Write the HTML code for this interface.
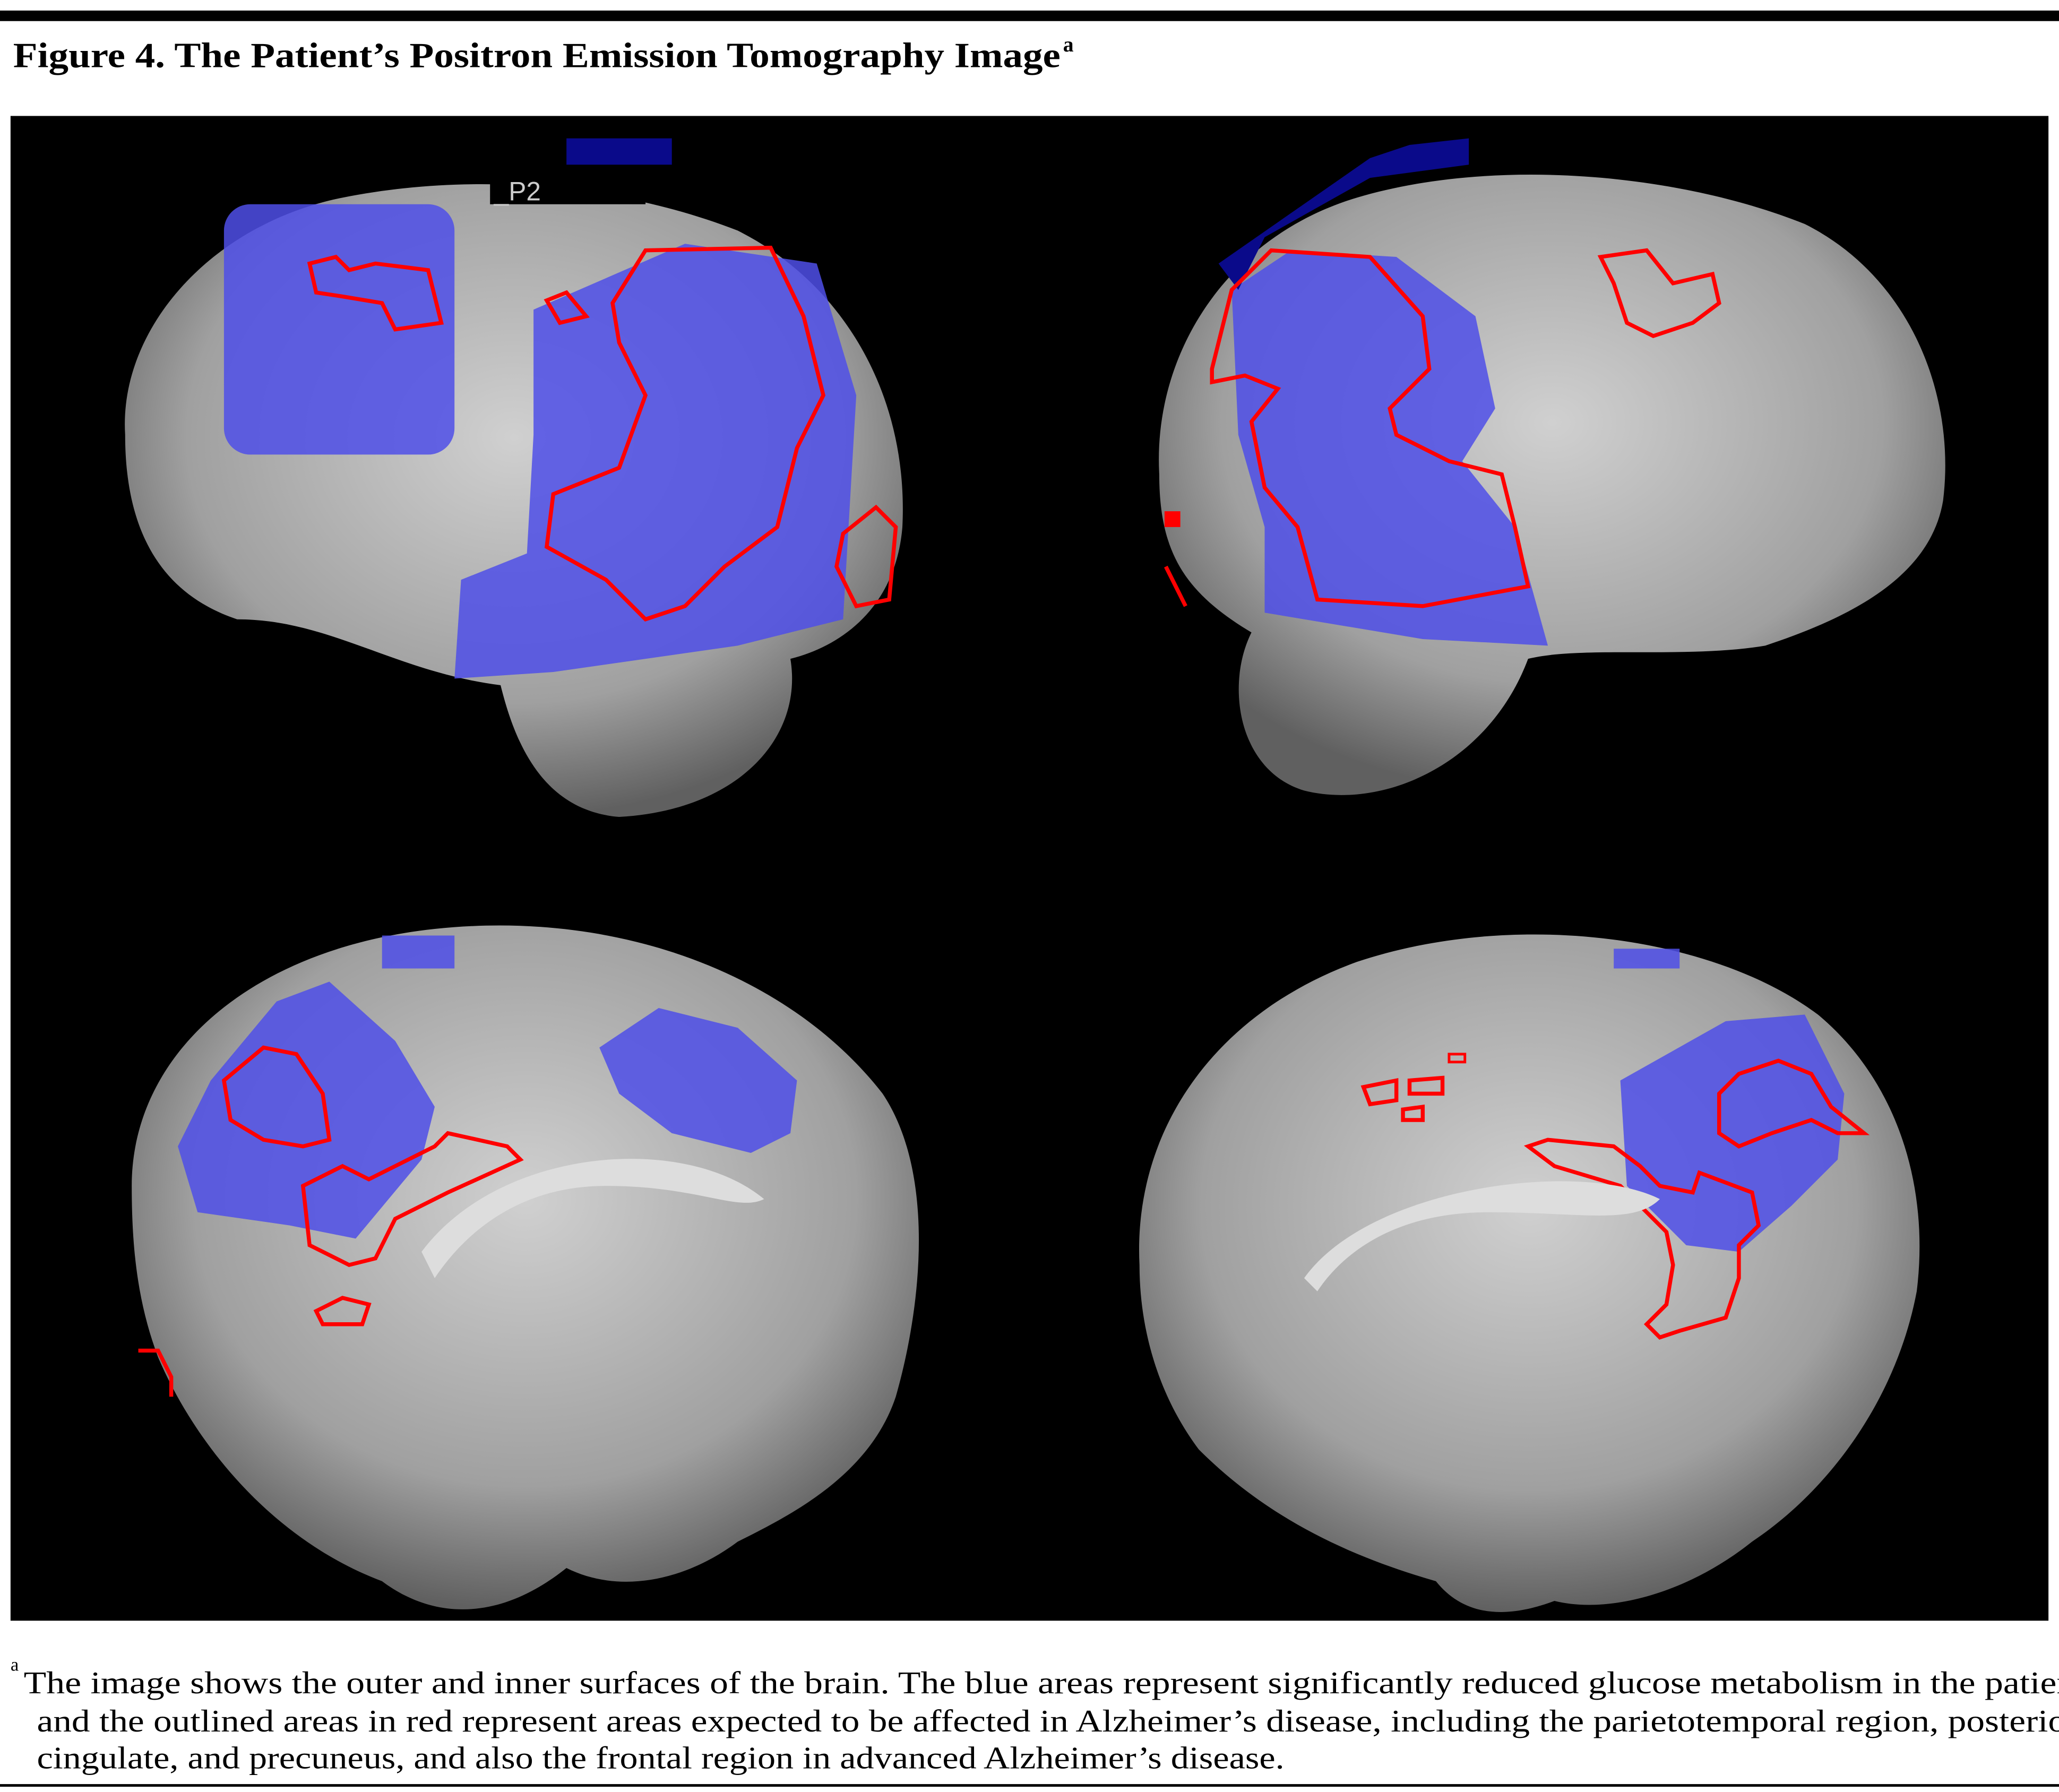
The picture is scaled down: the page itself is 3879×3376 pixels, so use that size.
<!DOCTYPE html>
<html><head><meta charset="utf-8"><style>
html,body{margin:0;padding:0;background:#fff;}
svg{display:block;}
</style></head><body>
<svg width="3879" height="3376" viewBox="0 0 1563 1360" preserveAspectRatio="none" xmlns="http://www.w3.org/2000/svg">
<defs>
<radialGradient id="g" cx="50%" cy="40%" r="60%">
<stop offset="0" stop-color="#d0d0d0"/><stop offset="0.7" stop-color="#a0a0a0"/><stop offset="1" stop-color="#606060"/>
</radialGradient>
</defs>
<rect x="0" y="0" width="1563" height="1360" fill="#fff"/>
<rect x="0" y="8" width="1563" height="8" fill="#000"/>
<text x="10" y="51" font-family="Liberation Serif, serif" font-weight="bold" font-size="27" textLength="795" lengthAdjust="spacingAndGlyphs">Figure 4. The Patient’s Positron Emission Tomography Image</text>
<text x="807" y="39" font-family="Liberation Serif, serif" font-weight="bold" font-size="16">a</text>
<rect x="8" y="88" width="1547" height="1142" fill="#000"/>

<!-- Brain 1 top-left -->
<path d="M95 330 C90 250 160 170 260 150 C360 130 470 140 560 175 C640 215 690 300 685 400 C680 460 640 490 600 500 C610 560 560 615 470 620 C410 615 390 560 380 520 C300 510 250 470 180 470 C120 450 95 400 95 330 Z" fill="url(#g)"/>
<rect x="170" y="155" width="175" height="190" rx="20" fill="#4f4fe8" opacity="0.85"/>
<path d="M405 235 L520 185 L620 200 L650 300 L640 470 L560 490 L420 510 L345 515 L350 440 L400 420 L405 330 Z" fill="#4f4fe8" opacity="0.85"/>
<path d="M235 200 L255 195 L265 205 L285 200 L325 205 L335 245 L300 250 L290 230 L260 225 L240 222 Z" fill="none" stroke="#f00" stroke-width="3"/>
<path d="M415 228 L430 222 L445 240 L425 245 Z" fill="none" stroke="#f00" stroke-width="3"/>
<path d="M465 230 L490 190 L585 188 L610 240 L625 300 L605 340 L590 400 L550 430 L520 460 L490 470 L460 440 L415 415 L420 375 L470 355 L490 300 L470 260 Z" fill="none" stroke="#f00" stroke-width="3"/>
<path d="M640 405 L665 385 L680 400 L675 455 L650 460 L635 430 Z" fill="none" stroke="#f00" stroke-width="3"/>
<rect x="430" y="105" width="80" height="20" fill="#0a0a8a"/>
<rect x="372" y="130" width="118" height="25" fill="#000"/>
<text x="375" y="152" font-family="Liberation Sans, sans-serif" font-size="20" fill="#ccc">_P2</text>

<!-- Brain 2 top-right -->
<path d="M880 360 C875 270 930 180 1030 150 C1130 120 1270 130 1370 170 C1450 210 1485 300 1475 380 C1465 440 1400 470 1340 490 C1280 500 1200 490 1160 500 C1130 580 1050 615 990 600 C940 585 930 520 950 480 C900 450 880 420 880 360 Z" fill="url(#g)"/>
<path d="M935 220 L980 190 L1060 195 L1120 240 L1135 310 L1110 350 L1150 400 L1175 490 L1080 485 L960 465 L960 400 L940 330 Z" fill="#4f4fe8" opacity="0.85"/>
<path d="M1040 120 L1070 110 L1115 105 L1115 125 L1040 135 L960 180 L940 220 L925 200 Z" fill="#0a0a8a"/>
<path d="M920 280 L935 220 L965 190 L1040 195 L1080 240 L1085 280 L1055 310 L1060 330 L1100 350 L1140 360 L1150 400 L1160 445 L1080 460 L1000 455 L985 400 L960 370 L950 320 L970 295 L945 285 L920 290 Z" fill="none" stroke="#f00" stroke-width="3"/>
<path d="M1215 195 L1250 190 L1270 215 L1300 208 L1305 230 L1285 245 L1255 255 L1235 245 L1225 215 Z" fill="none" stroke="#f00" stroke-width="3"/>
<rect x="884" y="388" width="12" height="12" fill="#f00"/>
<path d="M885 430 L895 450 L900 460" fill="none" stroke="#f00" stroke-width="3"/>

<!-- Brain 3 bottom-left -->
<path d="M100 900 C100 800 190 720 330 705 C470 690 600 740 670 830 C710 890 700 990 680 1060 C660 1120 600 1150 560 1170 C520 1200 470 1210 430 1190 C380 1230 330 1230 290 1200 C210 1170 150 1100 120 1030 C105 990 100 950 100 900 Z" fill="url(#g)"/>
<path d="M210 760 L250 745 L300 790 L330 840 L320 880 L270 940 L220 930 L150 920 L135 870 L160 820 Z" fill="#4f4fe8" opacity="0.85"/>
<path d="M455 795 L500 765 L560 780 L605 820 L600 860 L570 875 L510 860 L470 830 Z" fill="#4f4fe8" opacity="0.85"/>
<rect x="290" y="710" width="55" height="25" fill="#4f4fe8" opacity="0.85"/>
<path d="M170 820 L200 795 L225 800 L245 830 L250 865 L230 870 L200 865 L175 850 Z" fill="none" stroke="#f00" stroke-width="3"/>
<path d="M230 900 L260 885 L280 895 L330 870 L340 860 L385 870 L395 880 L340 905 L300 925 L285 955 L265 960 L235 945 Z" fill="none" stroke="#f00" stroke-width="3"/>
<path d="M240 995 L260 985 L280 990 L275 1005 L245 1005 Z" fill="none" stroke="#f00" stroke-width="3"/>
<path d="M105 1025 L120 1025 L130 1045 L130 1060" fill="none" stroke="#f00" stroke-width="3"/>
<path d="M320 950 C380 870 520 860 580 910 C560 920 530 900 460 900 C390 900 350 940 330 970 Z" fill="#ddd"/>

<!-- Brain 4 bottom-right -->
<path d="M865 960 C860 860 920 770 1030 730 C1150 690 1300 710 1380 770 C1440 820 1465 900 1455 980 C1440 1060 1390 1130 1330 1170 C1280 1210 1220 1225 1180 1215 C1140 1230 1110 1225 1090 1200 C1020 1180 960 1150 910 1100 C880 1060 865 1010 865 960 Z" fill="url(#g)"/>
<path d="M1230 820 L1310 775 L1370 770 L1400 830 L1395 880 L1360 915 L1320 950 L1280 945 L1235 900 Z" fill="#4f4fe8" opacity="0.85"/>
<rect x="1225" y="720" width="50" height="15" fill="#4f4fe8" opacity="0.85"/>
<path d="M1160 870 L1175 865 L1225 870 L1245 885 L1260 900 L1285 905 L1290 890 L1330 905 L1335 930 L1320 945 L1320 970 L1310 1000 L1275 1010 L1260 1015 L1250 1005 L1265 990 L1270 960 L1265 935 L1230 900 L1180 885 Z" fill="none" stroke="#f00" stroke-width="3"/>
<path d="M1305 830 L1320 815 L1350 805 L1375 815 L1390 840 L1415 860 L1395 860 L1375 850 L1345 860 L1320 870 L1305 860 Z" fill="none" stroke="#f00" stroke-width="3"/>
<path d="M1035 825 L1060 820 L1060 835 L1040 838 Z M1070 820 L1095 818 L1095 830 L1070 830 Z M1065 842 L1080 840 L1080 850 L1065 850 Z" fill="none" stroke="#f00" stroke-width="3"/>
<rect x="1100" y="800" width="12" height="6" fill="none" stroke="#f00" stroke-width="2"/>
<path d="M990 970 C1040 900 1200 880 1260 910 C1240 930 1200 920 1130 920 C1060 920 1020 950 1000 980 Z" fill="#ddd"/>

<text x="8" y="1268" font-family="Liberation Serif, serif" font-size="14">a</text>
<text x="18" y="1285" font-family="Liberation Serif, serif" font-size="24" textLength="1565" lengthAdjust="spacingAndGlyphs">The image shows the outer and inner surfaces of the brain.  The blue areas represent significantly reduced glucose metabolism in the patient</text>
<text x="28" y="1314" font-family="Liberation Serif, serif" font-size="24" textLength="1550" lengthAdjust="spacingAndGlyphs">and the outlined areas in red represent areas expected to be affected in Alzheimer’s disease, including the parietotemporal region, posterior</text>
<text x="28" y="1342" font-family="Liberation Serif, serif" font-size="24" textLength="947" lengthAdjust="spacingAndGlyphs">cingulate, and precuneus, and also the frontal region in advanced Alzheimer’s disease.</text>
<rect x="0" y="1354" width="1563" height="2" fill="#000"/>
</svg>
</body></html>
